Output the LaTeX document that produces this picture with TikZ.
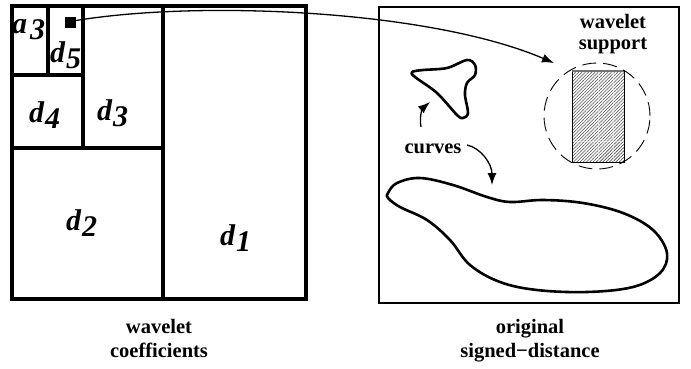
\documentclass[tikz,border=0pt]{standalone}
\usepackage{fontspec}
\setmainfont{Liberation Serif}
\usetikzlibrary{arrows.meta,patterns.meta}
\begin{document}
\begin{tikzpicture}[x=1pt,y=-1pt,
  thickbox/.style={line width=3.2pt},
  thinbox/.style={line width=1.4pt},
  curve/.style={line width=2.6pt, line join=round},
  conn/.style={line width=1.3pt, -{Latex[length=12pt,width=9pt]}},
  coef/.style={font=\fontsize{30}{32}\selectfont\bfseries\itshape, inner sep=0pt, anchor=base west},
  captxt/.style={font=\fontsize{20.5}{24}\selectfont\bfseries, align=center, inner sep=0pt, anchor=base}]
\useasboundingbox (0,0) rectangle (691,368);
% left box
\draw[thickbox] (12,6) rectangle (306,299);
\draw[thickbox] (163,6) -- (163,299);
\draw[thickbox] (12,148) -- (163,148);
\draw[thickbox] (83,6) -- (83,148);
\draw[thickbox] (12,75) -- (83,75);
\draw[thickbox] (48,6) -- (48,75);
\node[coef] (a3) at (12,33) {a\hspace{3pt}\raisebox{-6pt}{3}};
\node[coef] (d5) at (50,62) {d\hspace{1pt}\raisebox{-6pt}{5}};
\node[coef] (d4) at (29,122) {d\hspace{1pt}\raisebox{-6pt}{4}};
\node[coef] (d3) at (97,120) {d\hspace{1pt}\raisebox{-6pt}{3}};
\node[coef] (d2) at (66,230) {d\hspace{1pt}\raisebox{-6pt}{2}};
\node[coef] (d1) at (220,245) {d\hspace{1pt}\raisebox{-6pt}{1}};
\node[fill=black, minimum size=11pt, inner sep=0pt] (sq) at (70.5,22.5) {};
% right box
\draw[thinbox] (379,7) rectangle (679,303);
% wavelet support
\fill[pattern={Lines[angle=45,distance=2.3pt,line width=0.6pt]}, pattern color=black!70] (572,71) rectangle (624,162);
\draw[white, line width=1pt, opacity=0.5] (598,71) -- (598,162) (613,71) -- (613,162) (572,141) -- (624,141);
\draw[line width=0.8pt] (572,71) rectangle (624,162);
\draw[black!55, line width=1.5pt] (572,71) -- (624,71);
\draw[line width=0.9pt, dash pattern=on 14pt off 7pt] (597,116) circle (53pt);
\node[captxt, font=\fontsize{20.5}{21}\selectfont\bfseries] (ws) at (613,49) {wavelet\\support};
\coordinate (tip) at (554,63);
\draw[conn] ([yshift=2pt]sq.east) .. controls (200,0) and (430,10) .. (tip);
% curves
\draw[curve] plot[smooth cycle, tension=0.55] coordinates {
 (412,72) (423,70) (447,68) (467,60) (475,65) (475,75) (467,83) (465,95)
 (468,113) (463,118) (457,115) (437,93) (415,77)};
\draw[curve] plot[smooth cycle, tension=0.6] coordinates {
 (388,193) (397,183) (420,178) (453,185) (487,197) (510,202) (543,200)
 (583,203) (623,213) (653,230) (667,253) (660,273) (633,287) (587,292)
 (537,290) (500,282) (470,265) (450,240) (427,220) (400,207) (388,198)};
\node[captxt] (curves) at (433,153) {curves};
\coordinate (c1s) at (421,127);
\coordinate (c1t) at (430,102);
\coordinate (c2s) at (467,145);
\coordinate (c2t) at (492,185);
\draw[conn] (c1s) .. controls (419,115) and (423,108) .. (c1t);
\draw[conn] (c2s) .. controls (481,148) and (492,164) .. (c2t);
% captions
\node[captxt] (wc) at (159,357) {wavelet\\coefficients};
\node[captxt] (os) at (530,357) {original\\signed−distance};
\end{tikzpicture}
\end{document}
